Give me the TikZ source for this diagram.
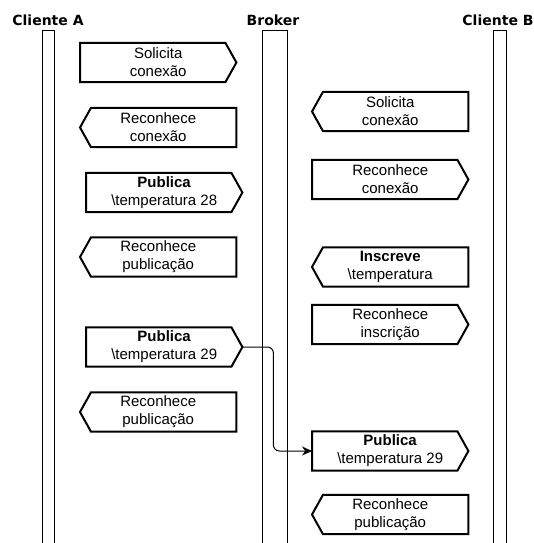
\documentclass[tikz,border=0pt]{standalone}
\usepackage{fontspec}
\setmainfont{Liberation Sans}
\newfontfamily\titlefont{DejaVu Sans}
\usetikzlibrary{arrows.meta, positioning}
\tikzset{
    msg/.style={
        rectangle,
        align=center,
        minimum width=156pt,
        minimum height=39pt,
        inner sep=0pt,
        font=\fontsize{15}{18}\selectfont
    },
    outline/.style={draw=black, line width=2pt, line join=miter},
    msgright/.style={
        msg,
        append after command={\pgfextra{
            \draw [outline] (\tikzlastnode.north west)
                -- ([xshift=-11pt]\tikzlastnode.north east)
                -- (\tikzlastnode.east)
                -- ([xshift=-11pt]\tikzlastnode.south east)
                -- (\tikzlastnode.south west) -- cycle;}}
    },
    msgleft/.style={
        msg,
        append after command={\pgfextra{
            \draw [outline] (\tikzlastnode.north east)
                -- ([xshift=11pt]\tikzlastnode.north west)
                -- (\tikzlastnode.west)
                -- ([xshift=11pt]\tikzlastnode.south west)
                -- (\tikzlastnode.south east) -- cycle;}}
    },
    actor/.style={
        font=\titlefont\bfseries\fontsize{14}{16}\selectfont
    },
    lifeline/.style={draw=black, line width=1pt, fill=white},
    arrow/.style={line width=1pt, rounded corners=6pt, -{Stealth[length=10pt, width=9pt]}}
}

\begin{document}
\begin{tikzpicture}[x=1pt, y=-1pt]

        \useasboundingbox (0,0) rectangle (533,543);

        % actors and lifelines
        \node (clienteA) [actor] at (48,20.5) {Cliente A};
        \node (broker) [actor] at (273,20.5) {Broker};
        \node (clienteB) [actor] at (498,20.5) {Cliente B};

        \draw [lifeline] (42,31) rectangle (54,545);
        \draw [lifeline] (262,31) rectangle (287,545);
        \draw [lifeline] (493,31) rectangle (506,545);

        % Cliente A side
        \node (solA) [msgright, anchor=west] at (80,62.5) {Solicita\\conexão};
        \node (recA) [msgleft, anchor=west] at (80,127.5) {Reconhece\\conexão};
        \node (pubA28) [msgright, anchor=west] at (86,192.5) {\textbf{Publica}\\\textbackslash temperatura 28};
        \node (recPubA28) [msgleft, anchor=west] at (80,257) {Reconhece\\publicação};
        \node (pubA29) [msgright, anchor=west] at (86,347) {\textbf{Publica}\\\textbackslash temperatura 29};
        \node (recPubA29) [msgleft, anchor=west] at (80,412) {Reconhece\\publicação};

        % Cliente B side
        \node (solB) [msgleft, anchor=west] at (312,111.5) {Solicita\\conexão};
        \node (recB) [msgright, anchor=west] at (312,179.5) {Reconhece\\conexão};
        \node (subB) [msgleft, anchor=west] at (312,267) {\textbf{Inscreve}\\\textbackslash temperatura};
        \node (recSubB) [msgright, anchor=west] at (312,324.5) {Reconhece\\inscrição};
        \node (pubB29) [msgright, anchor=west] at (312,451) {\textbf{Publica}\\\textbackslash temperatura 29};
        \node (recPubB29) [msgleft, anchor=west] at (312,514.5) {Reconhece\\publicação};

        \draw [arrow] (pubA29.east) -- ++(31,0) |- (pubB29.west);

    \end{tikzpicture}
\end{document}
